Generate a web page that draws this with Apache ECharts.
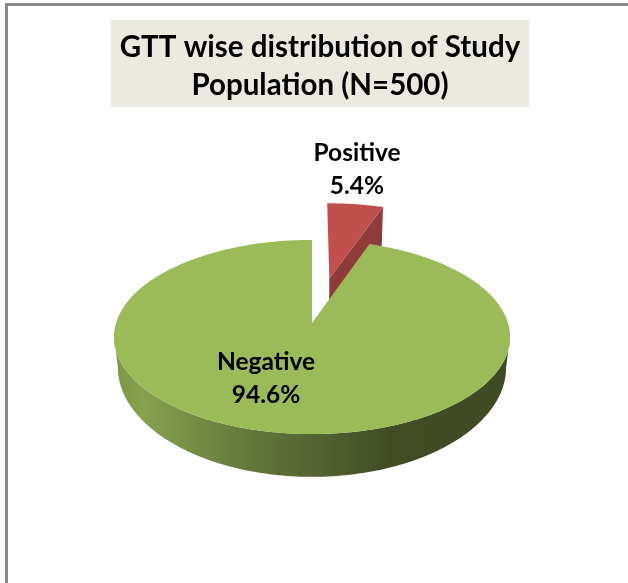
<!DOCTYPE html>
<html>
<head>
<meta charset="utf-8">
<title>GTT wise distribution</title>
<script src="https://cdn.jsdelivr.net/npm/echarts@6/dist/echarts.min.js"></script>
<style>
html, body { margin: 0; padding: 0; background: #fff; }
#chart { width: 628px; height: 583px; }
</style>
</head>
<body>
<div id="chart"></div>
<script>
// Datas
const categories = ['Positive', 'Negative']
const shares = [5.4, 94.6]
const titleText = 'GTT wise distribution of Study\nPopulation (N=500)'

// Pie Setting (excel style 3d pie, drawn in perspective)
const pie = { cx: 312, cy: 323, radius: 196, tilt: 0.485, persp: 0.144, depth: 29, bottomScale: 0.98 }
const explode = [100, 0]
const sliceRadius = [203, 196]
const sliceDepth = [2.4, 1]
const topColor = ['#C0504D', '#9BBB59']
const cutColor = ['#8F3B39', '#7A9446']
const labelPos = [[357, 170], [266, 379]]

function project(a, r, off, bottom, depthScale) {
  const u = off[0] + r * Math.sin(a)
  const v = off[1] + r * Math.cos(a)
  const s = 1 / (1 + pie.persp * v / pie.radius)
  let x = u * s
  let y = -v * pie.tilt * s
  if (bottom) {
    x *= pie.bottomScale
    y += pie.depth * depthScale * Math.pow(s, 2.5)
  }
  return [pie.cx + x, pie.cy + y]
}

function arc(a0, a1, r, off, bottom, depthScale) {
  const pts = []
  const n = Math.max(2, Math.ceil(Math.abs(a1 - a0) / 0.02))
  for (let i = 0; i <= n; i++) {
    pts.push(project(a0 + (a1 - a0) * i / n, r, off, bottom, depthScale))
  }
  return pts
}

function renderSlice(params, api) {
  const i = params.dataIndex
  const total = shares.reduce((a, b) => a + b, 0)
  const before = shares.slice(0, i).reduce((a, b) => a + b, 0)
  const a0 = before / total * Math.PI * 2
  const a1 = (before + api.value(0)) / total * Math.PI * 2
  const mid = (a0 + a1) / 2
  const off = [explode[i] * Math.sin(mid) * 1.1, explode[i] * Math.cos(mid)]
  const r = sliceRadius[i]
  const d = sliceDepth[i]
  const children = []

  // side wall of the rim, front half only
  const rimStart = Math.max(a0, Math.PI / 2 + Math.asin(pie.persp))
  const rimEnd = Math.min(a1, Math.PI * 1.5 - Math.asin(pie.persp))
  if (rimEnd > rimStart) {
    const top = arc(rimStart, rimEnd, r, off, false, d)
    const bot = arc(rimStart, rimEnd, r, off, true, d)
    children.push({
      type: 'polygon',
      shape: { points: top.concat(bot.reverse()) },
      style: {
        fill: {
          type: 'linear', x: 0, y: 0, x2: 1, y2: 0,
          colorStops: [
            { offset: 0, color: '#7C9546' },
            { offset: 0.07, color: '#88A14F' },
            { offset: 0.35, color: '#62763A' },
            { offset: 0.7, color: '#414C25' },
            { offset: 1, color: '#3F4B24' },
          ],
        },
      },
    })
  }

  // cut face, only the one that looks at us
  if (a1 < Math.PI) {
    const apex = project(0, 0, off, false, d)
    const corner = project(a1, r, off, false, d)
    const cornerB = project(a1, r, off, true, d)
    const apexB = project(0, 0, off, true, d)
    children.push({
      type: 'polygon',
      shape: { points: [apex, corner, cornerB, apexB] },
      style: { fill: cutColor[i] },
    })
  }

  // top face
  children.push({
    type: 'polygon',
    shape: { points: [project(0, 0, off, false, d)].concat(arc(a0, a1, r, off, false, d)) },
    style: { fill: topColor[i] },
  })

  children.push({
    type: 'text',
    x: labelPos[i][0],
    y: labelPos[i][1],
    z2: 10,
    style: {
      text: categories[i] + '\n' + api.value(0).toFixed(1) + '%',
      fill: '#000',
      font: 'bold 24.5px Lato',
      lineHeight: 33,
      align: 'center',
      verticalAlign: 'middle',
    },
  })

  return { type: 'group', children }
}

const chart = echarts.init(document.getElementById('chart'), null, { renderer: 'canvas' })

chart.setOption({
  animation: false,
  backgroundColor: '#fff',
  title: {
    text: titleText,
    left: 311,
    top: 20,
    textAlign: 'center',
    padding: [8, 9, 3, 9],
    backgroundColor: '#ECEADF',
    textStyle: {
      fontFamily: 'Lato',
      fontWeight: 'bold',
      fontSize: 29.5,
      lineHeight: 38,
      color: '#000',
    },
  },
  graphic: [{
    // chart frame, runs off the page on the right and at the bottom
    type: 'polyline',
    shape: { points: [[6.5, 583], [6.5, 4.5], [628, 4.5]] },
    style: { stroke: '#8A8A8A', lineWidth: 3, fill: null },
  }],
  series: [{
    type: 'custom',
    coordinateSystem: 'none',
    renderItem: renderSlice,
    data: shares.map((v, i) => ({ name: categories[i], value: [v] })),
  }],
})
</script>
</body>
</html>
